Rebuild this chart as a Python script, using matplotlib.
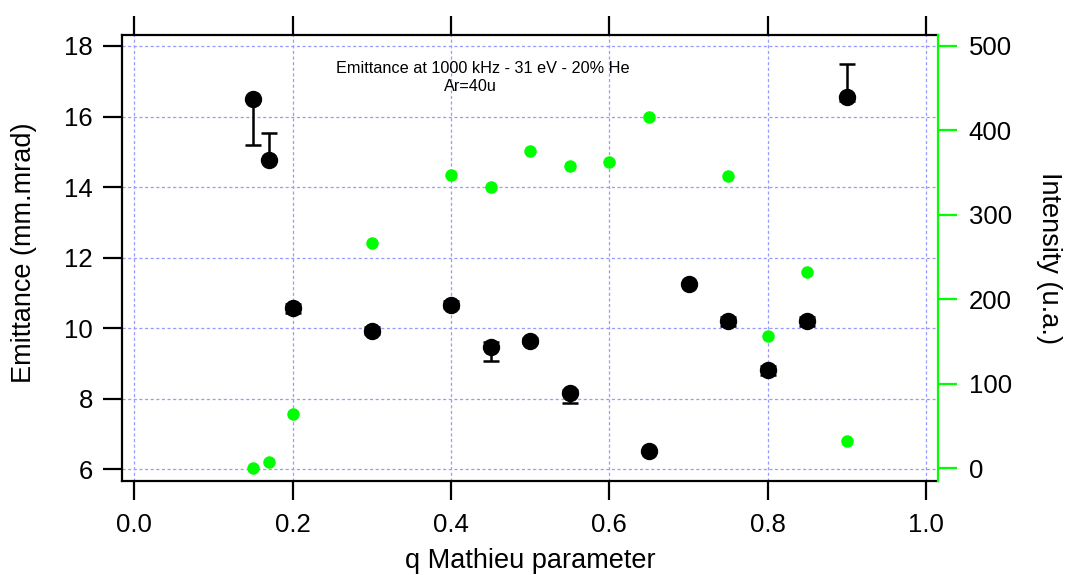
import matplotlib.pyplot as plt

# Emittance (left axis) with asymmetric error bars
q_emit = [0.15, 0.17, 0.20, 0.30, 0.40, 0.45, 0.50, 0.55, 0.65, 0.70, 0.75, 0.80, 0.85, 0.90]
emittance = [16.50, 14.76, 10.56, 9.93, 10.66, 9.46, 9.65, 8.15, 6.52, 11.26, 10.19, 8.81, 10.19, 16.55]
err_low = [1.32, 0.0, 0.12, 0.10, 0.10, 0.38, 0.08, 0.26, 0.0, 0.0, 0.13, 0.13, 0.13, 0.10]
err_high = [0.0, 0.76, 0.12, 0.10, 0.10, 0.15, 0.08, 0.10, 0.0, 0.0, 0.13, 0.13, 0.13, 0.94]

# Intensity (right axis)
q_int = [0.15, 0.17, 0.20, 0.30, 0.40, 0.45, 0.50, 0.55, 0.60, 0.65, 0.75, 0.80, 0.85, 0.90]
intensity = [0, 7, 64, 267, 347, 333, 376, 358, 363, 416, 346, 157, 232, 32]

x_ticks = [0.0, 0.2, 0.4, 0.6, 0.8, 1.0]
left_ticks = [6, 8, 10, 12, 14, 16, 18]
right_ticks = [0, 100, 200, 300, 400, 500]

GREEN = "#00ff00"
GRID = "#9a9aff"

plt.rcParams["font.family"] = ["Liberation Sans", "DejaVu Sans"]

fig = plt.figure(figsize=(10.65, 5.75), dpi=100)
ax = fig.add_axes([0.1146, 0.164, 0.7662, 0.7757])
ax2 = ax.twinx()

ax.errorbar(q_emit, emittance, yerr=[err_low, err_high], fmt="o", color="black",
            ms=11.5, capsize=5.5, elinewidth=1.8, capthick=1.8, zorder=3)
ax2.plot(q_int, intensity, "o", color=GREEN, ms=9, mec="none", zorder=3)

ax.set_xlim(-0.0155, 1.0152)
ax.set_ylim(5.677, 18.32)
ax2.set_ylim(-14.7, 513.4)
ax.set_xticks(x_ticks)
ax.set_xticklabels([f"{v:.1f}" for v in x_ticks])
ax.set_yticks(left_ticks)
ax2.set_yticks(right_ticks)

ax.grid(True, color=GRID, linestyle=(0, (2.5, 2)), linewidth=0.9)
ax.set_axisbelow(True)

for s in ["left", "top", "bottom"]:
    ax.spines[s].set_linewidth(1.6)
ax.spines["right"].set_visible(False)
for s in ["left", "top", "bottom"]:
    ax2.spines[s].set_visible(False)
ax2.spines["right"].set_color(GREEN)
ax2.spines["right"].set_linewidth(1.6)

ax.tick_params(axis="x", direction="out", length=14, width=1.6, labelsize=18.5,
               top=True, pad=9)
ax.tick_params(axis="y", direction="out", length=14, width=1.6, labelsize=18.5, pad=7)
ax2.tick_params(axis="y", direction="out", length=14, width=1.6, color=GREEN,
                labelsize=18.5, pad=8)

ax.set_xlabel("q Mathieu parameter", fontsize=19.5)
ax.xaxis.set_label_coords(0.5, -0.151)
ax.set_ylabel("Emittance (mm.mrad)", fontsize=19.5)
ax.yaxis.set_label_coords(-0.104, 0.51)
ax2.set_ylabel("Intensity (u.a.)", fontsize=19.5, rotation=270, va="bottom")
ax2.yaxis.set_label_coords(1.12, 0.50)

fig.text(483 / 1065, 1 - 68.3 / 575, "Emittance at 1000 kHz - 31 eV - 20% He",
         ha="center", va="center", fontsize=11.7)
fig.text(470 / 1065, 1 - 86.7 / 575, "Ar=40u", ha="center", va="center", fontsize=11.7)

fig.savefig("out.png", dpi=100)
